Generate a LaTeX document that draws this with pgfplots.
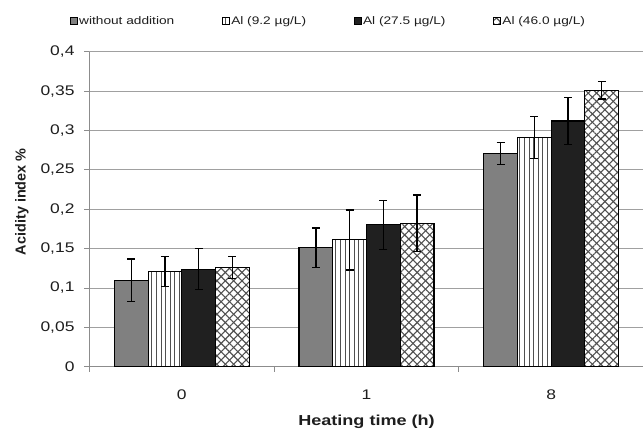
\documentclass[border=0pt]{standalone}
\usepackage{pgfplots}
\usepackage{pgfplotstable}
\pgfplotsset{compat=1.18}
\usetikzlibrary{patterns.meta}
\usepackage{fontspec}
\setmainfont{Liberation Sans}[FakeStretch=1.25]
\newfontfamily\plainsans{Liberation Sans}

\definecolor{gridc}{HTML}{A0A0A0}
\definecolor{axc}{HTML}{8C8C8C}
\definecolor{barA}{HTML}{808080}
\definecolor{barC}{HTML}{202020}
\definecolor{hatch}{HTML}{505050}
\definecolor{txt}{HTML}{1E1E1E}

% acidity index, mean and error, per treatment
\pgfplotstableread{
x y e
0 0.110 0.027
1 0.151 0.025
2 0.271 0.014
}\tblA
\pgfplotstableread{
x y e
0 0.121 0.019
1 0.161 0.038
2 0.291 0.027
}\tblB
\pgfplotstableread{
x y e
0 0.124 0.026
1 0.180 0.031
2 0.312 0.030
}\tblC
\pgfplotstableread{
x y e
0 0.126 0.014
1 0.182 0.036
2 0.351 0.011
}\tblD

\pgfplotsset{
  sqleg/.style={legend image code/.code={
    \draw[##1, line width=0.9bp] (0bp,-3.5bp) rectangle (7bp,3.5bp);}},
  ebar/.style={error bars/.cd, y dir=both, y explicit,
    error bar style={line width=1.4bp, black},
    error mark options={rotate=90, mark size=4bp, line width=1.4bp, black}},
}

\begin{document}
\begin{tikzpicture}
\begin{axis}[
    at={(0,0)}, anchor=south west,
    scale only axis, width=554bp, height=315bp,
    ybar=0pt, bar width=33.75bp,
    xmin=-0.5, xmax=2.5, ymin=0, ymax=0.4,
    enlargelimits=false,
    axis lines=left, axis line style={-, axc, line width=0.9bp},
    xtick={0,1,2}, xticklabels={0,1,8},
    minor xtick={-0.5,0.5,1.5,2.5},
    major x tick style={draw=none},
    minor x tick style={axc, line width=0.9bp},
    ytick={0,0.05,...,0.41},
    scaled y ticks=false,
    y tick style={axc, line width=0.9bp},
    tick align=outside, major tick length=5bp, minor tick length=5bp,
    ymajorgrids, grid style={gridc, line width=0.9bp},
    tick label style={font=\fontsize{14}{16}\selectfont, text=txt},
    xticklabel style={anchor=center, yshift=-23bp},
    yticklabel style={xshift=-6.5bp, /pgf/number format/.cd, fixed, precision=2,
      use comma, assume math mode=true},
    xlabel={\bfseries Heating time (h)},
    ylabel={\plainsans\bfseries Acidity index \%},
    label style={font=\fontsize{14.5}{17}\selectfont, text=txt},
    xlabel style={at={(axis description cs:0.5,-0.1755)}, anchor=center},
    ylabel style={at={(axis description cs:-0.122,0.524)}, anchor=center},
    legend columns=4,
    legend style={at={(axis description cs:-0.036,1.098)}, anchor=west,
      draw=none, fill=none, inner sep=0pt, font=\fontsize{11}{13}\selectfont, text=txt,
      /tikz/every even column/.append style={column sep=46bp},
      nodes={inner sep=1.5bp}},
    legend cell align=left,
]
\addplot[draw=black, line width=1.1bp, fill=barA, sqleg, ebar]
  table[x=x, y=y, y error=e] {\tblA};
\addplot[draw=black, line width=1.1bp, fill=white,
  postaction={pattern={Lines[angle=90, distance=4.6bp, line width=1bp]}, pattern color=hatch},
  sqleg, ebar]
  table[x=x, y=y, y error=e] {\tblB};
\addplot[draw=black, line width=1.1bp, fill=barC, sqleg, ebar]
  table[x=x, y=y, y error=e] {\tblC};
\addplot[draw=black, line width=1.1bp, fill=white,
  postaction={pattern={Lines[angle=45, distance=5.9bp, line width=1.1bp]}, pattern color=hatch},
  postaction={pattern={Lines[angle=-45, distance=5.9bp, line width=1.1bp]}, pattern color=hatch},
  sqleg, ebar]
  table[x=x, y=y, y error=e] {\tblD};
\legend{without addition, Al (9.2 µg/L), Al (27.5 µg/L), Al (46.0 µg/L)}
\end{axis}
\pgfresetboundingbox
\path (-89.5bp,-64.3bp) rectangle (553.5bp,366.7bp);
\end{tikzpicture}
\end{document}
